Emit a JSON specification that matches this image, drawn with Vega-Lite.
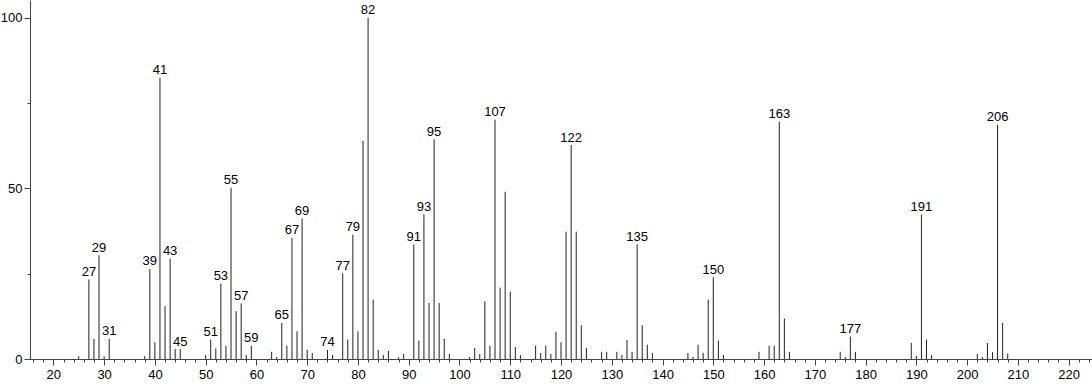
{
  "$schema": "https://vega.github.io/schema/vega-lite/v6.json",
  "width": 1062,
  "height": 359,
  "autosize": "none",
  "padding": {"left": 30, "top": 0, "right": 0, "bottom": 25},
  "background": "white",
  "config": {"view": {"stroke": null}, "font": "Liberation Sans"},
  "data": {"values": [
    {"mz": 25, "i": 0.8}, {"mz": 27, "i": 23.3, "label": "27"}, {"mz": 28, "i": 5.9}, {"mz": 29, "i": 30.4, "label": "29"},
    {"mz": 30, "i": 0.8}, {"mz": 31, "i": 5.9, "label": "31"}, {"mz": 38, "i": 0.8}, {"mz": 39, "i": 26.4, "label": "39"},
    {"mz": 40, "i": 4.9}, {"mz": 41, "i": 82.4, "label": "41"}, {"mz": 42, "i": 15.5}, {"mz": 43, "i": 29.4, "label": "43"},
    {"mz": 44, "i": 2.9}, {"mz": 45, "i": 2.9, "label": "45"}, {"mz": 50, "i": 1.2}, {"mz": 51, "i": 5.7, "label": "51"},
    {"mz": 52, "i": 3.1}, {"mz": 53, "i": 22.1, "label": "53"}, {"mz": 54, "i": 3.9}, {"mz": 55, "i": 50.2, "label": "55"},
    {"mz": 56, "i": 14.0}, {"mz": 57, "i": 16.3, "label": "57"}, {"mz": 58, "i": 1.2}, {"mz": 59, "i": 3.9, "label": "59"},
    {"mz": 63, "i": 2.1}, {"mz": 64, "i": 0.6}, {"mz": 65, "i": 10.6, "label": "65"}, {"mz": 66, "i": 3.9},
    {"mz": 67, "i": 35.5, "label": "67"}, {"mz": 68, "i": 8.1}, {"mz": 69, "i": 41.2, "label": "69"}, {"mz": 70, "i": 2.7},
    {"mz": 71, "i": 1.8}, {"mz": 74, "i": 2.7, "label": "74"}, {"mz": 75, "i": 1.2}, {"mz": 77, "i": 25.1, "label": "77"},
    {"mz": 78, "i": 5.7}, {"mz": 79, "i": 36.4, "label": "79"}, {"mz": 80, "i": 8.1}, {"mz": 81, "i": 63.9},
    {"mz": 82, "i": 100, "label": "82"}, {"mz": 83, "i": 17.4}, {"mz": 84, "i": 2.7}, {"mz": 85, "i": 1.2},
    {"mz": 86, "i": 2.4}, {"mz": 88, "i": 0.5}, {"mz": 89, "i": 1.5}, {"mz": 91, "i": 33.6, "label": "91"},
    {"mz": 92, "i": 5.4}, {"mz": 93, "i": 42.4, "label": "93"}, {"mz": 94, "i": 16.4}, {"mz": 95, "i": 64.4, "label": "95"},
    {"mz": 96, "i": 16.4}, {"mz": 97, "i": 5.9}, {"mz": 98, "i": 1.5}, {"mz": 102, "i": 0.6},
    {"mz": 103, "i": 3.2}, {"mz": 104, "i": 1.5}, {"mz": 105, "i": 16.9}, {"mz": 106, "i": 3.9},
    {"mz": 107, "i": 70.1, "label": "107"}, {"mz": 108, "i": 20.9}, {"mz": 109, "i": 49.0}, {"mz": 110, "i": 19.8},
    {"mz": 111, "i": 3.5}, {"mz": 112, "i": 1.2}, {"mz": 115, "i": 3.9}, {"mz": 116, "i": 1.8},
    {"mz": 117, "i": 3.9}, {"mz": 118, "i": 1.5}, {"mz": 119, "i": 8.0}, {"mz": 120, "i": 4.9},
    {"mz": 121, "i": 37.3}, {"mz": 122, "i": 62.7, "label": "122"}, {"mz": 123, "i": 37.3}, {"mz": 124, "i": 9.9},
    {"mz": 125, "i": 3.2}, {"mz": 128, "i": 2.1}, {"mz": 129, "i": 2.1}, {"mz": 131, "i": 2.1},
    {"mz": 132, "i": 1.2}, {"mz": 133, "i": 5.6}, {"mz": 134, "i": 2.1}, {"mz": 135, "i": 33.6, "label": "135"},
    {"mz": 136, "i": 9.9}, {"mz": 137, "i": 4.2}, {"mz": 138, "i": 1.8}, {"mz": 145, "i": 1.8},
    {"mz": 146, "i": 0.6}, {"mz": 147, "i": 4.2}, {"mz": 148, "i": 1.8}, {"mz": 149, "i": 17.4},
    {"mz": 150, "i": 24.0, "label": "150"}, {"mz": 151, "i": 5.4}, {"mz": 152, "i": 1.2}, {"mz": 159, "i": 2.1},
    {"mz": 161, "i": 3.9}, {"mz": 162, "i": 3.9}, {"mz": 163, "i": 69.6, "label": "163"}, {"mz": 164, "i": 11.9},
    {"mz": 165, "i": 2.1}, {"mz": 175, "i": 2.1}, {"mz": 176, "i": 0.6}, {"mz": 177, "i": 6.6, "label": "177"},
    {"mz": 178, "i": 2.1}, {"mz": 189, "i": 4.7}, {"mz": 190, "i": 0.9}, {"mz": 191, "i": 42.3, "label": "191"},
    {"mz": 192, "i": 5.7}, {"mz": 193, "i": 1.2}, {"mz": 202, "i": 1.5}, {"mz": 203, "i": 0.6},
    {"mz": 204, "i": 4.7}, {"mz": 205, "i": 2.0}, {"mz": 206, "i": 68.6, "label": "206"}, {"mz": 207, "i": 10.6},
    {"mz": 208, "i": 1.6}
  ]},
  "encoding": {
    "x": {
      "field": "mz", "type": "quantitative",
      "scale": {"domain": [15.4, 224.6], "nice": false, "zero": false},
      "axis": {
        "title": null, "grid": false,
        "values": [16,18,20,22,24,26,28,30,32,34,36,38,40,42,44,46,48,50,52,54,56,58,60,62,64,66,68,70,72,74,76,78,80,82,84,86,88,90,92,94,96,98,100,102,104,106,108,110,112,114,116,118,120,122,124,126,128,130,132,134,136,138,140,142,144,146,148,150,152,154,156,158,160,162,164,166,168,170,172,174,176,178,180,182,184,186,188,190,192,194,196,198,200,202,204,206,208,210,212,214,216,218,220,222,224],
        "labelExpr": "datum.value % 10 === 0 ? datum.label : ''",
        "tickSize": {"condition": {"test": "datum.value % 10 === 0", "value": 6}, "value": 3},
        "domainColor": "#444", "tickColor": "#444", "labelColor": "#000",
        "labelFontSize": 13, "labelFont": "Liberation Sans", "labelPadding": 3,
        "labelFlush": false, "labelOverlap": false
      }
    },
    "y": {
      "field": "i", "type": "quantitative",
      "scale": {"domain": [0, 105.2], "nice": false},
      "axis": {
        "title": null, "grid": false,
        "values": [0, 25, 50, 75, 100],
        "labelExpr": "datum.value % 50 === 0 ? datum.label : ''",
        "tickSize": {"condition": {"test": "datum.value % 50 === 0", "value": 6}, "value": 3},
        "domainColor": "#444", "tickColor": "#444", "labelColor": "#000",
        "labelFontSize": 13, "labelFont": "Liberation Sans", "labelPadding": 2,
        "labelFlush": false, "labelOverlap": false
      }
    }
  },
  "layer": [
    {
      "mark": {"type": "rule", "color": "#222", "strokeWidth": 1},
      "encoding": {"y2": {"datum": 0}}
    },
    {
      "transform": [{"filter": "datum.label"}],
      "mark": {"type": "text", "baseline": "alphabetic", "align": "center", "dy": -3.5, "fontSize": 13, "font": "Liberation Sans", "color": "#000"},
      "encoding": {"text": {"field": "label"}}
    }
  ]
}
